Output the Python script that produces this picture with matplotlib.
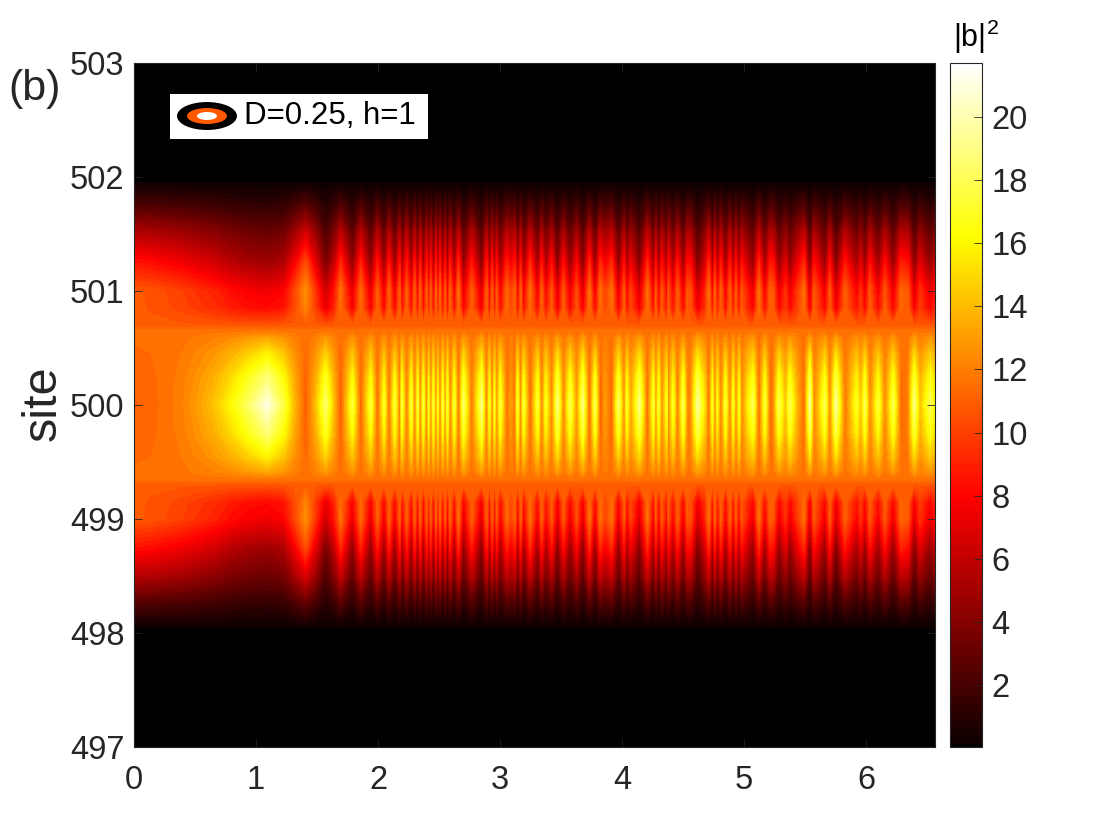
import numpy as np
import matplotlib
matplotlib.use("Agg")
import matplotlib.pyplot as plt
from matplotlib.cm import ScalarMappable
from matplotlib.colors import Normalize, ListedColormap
from matplotlib.patches import Ellipse, Rectangle

plt.rcParams['font.family'] = ['Liberation Sans', 'DejaVu Sans']
plt.rcParams['mathtext.fontset'] = 'custom'
plt.rcParams['mathtext.rm'] = 'Liberation Sans'

# time values where the stripes peak or dip
times = [
    0, .137, .383, .519, .656, .792, .929, 1.093, 1.230, 1.311, 1.407, 1.489, 1.571, 1.639, 1.694, 1.790, 1.858, 1.940, 1.995, 2.049, 2.090, 2.137, 2.178,
    2.194, 2.235, 2.273, 2.300, 2.325, 2.344, 2.371, 2.399, 2.415, 2.431, 2.453, 2.475, 2.489, 2.508, 2.530, 2.549, 2.568, 2.590, 2.625, 2.658, 2.699,
    2.767, 2.849, 2.890, 2.912, 2.937, 2.953, 2.972, 3.000, 3.054, 3.087, 3.123, 3.142, 3.169, 3.191, 3.246, 3.308, 3.341, 3.374, 3.423, 3.470, 3.519,
    3.573, 3.628, 3.677, 3.732, 3.778, 3.819, 3.860, 3.915, 3.970, 4.016, 4.038, 4.071, 4.142, 4.207, 4.257, 4.276, 4.298, 4.325, 4.366,
    4.377, 4.418, 4.454, 4.500, 4.535, 4.563, 4.617, 4.678, 4.710, 4.740, 4.760, 4.779, 4.809, 4.847, 4.883, 4.910, 4.932, 4.959, 4.978, 5.033,
    5.074, 5.120, 5.169, 5.210, 5.238, 5.284, 5.339, 5.374, 5.429, 5.492, 5.538, 5.571, 5.612, 5.661, 5.702, 5.751, 5.825, 5.921, 5.956, 5.989,
    6.030, 6.098, 6.153, 6.221, 6.284, 6.344, 6.393, 6.440, 6.522, 6.563,
]

# |b|^2 along site 500
center_vals = [
    11, 11.2, 12, 13, 14.2, 16, 18.2, 21, 17.5, 14, 10.8, 14, 18.5, 14, 10.6, 17.5, 10.8, 17.5, 11, 17, 11.3, 17.5, 11.5,
    17.5, 11.5, 17.5, 11.5, 17.5, 11.5, 17.5, 11.5, 17, 11.5, 17.5, 11.5, 16.5, 11.5, 17.5, 12, 17.5, 11.5, 17.5, 11, 18.5,
    11.5, 19, 11.5, 17, 11.5, 17, 12, 17.5, 11.3, 13, 11.5, 17.5, 11.5, 17.5, 11, 17.5, 11.5, 17, 12, 19, 12,
    18, 12.5, 19, 11, 18, 11, 13, 11, 18.5, 12, 17, 13, 19, 11, 17.5, 12, 17.5, 12, 17,
    12, 17, 11.5, 18, 12, 12.5, 19.5, 15, 11, 17, 11.5, 16.5, 11.5, 17.5, 11.5, 17, 12, 17, 12, 16,
    18, 11, 17.5, 11.5, 12, 18, 14, 18, 14, 11, 19.5, 12, 14.5, 18, 12, 19.5, 11.5, 17, 14, 18,
    12, 17.5, 12, 18, 11.2, 12, 19, 14, 18, 16,
]

# |b|^2 along sites 499 and 501
side_vals = [
    10.8, 10.6, 10, 9.5, 9, 8.3, 7.8, 7.5, 8, 10, 12.5, 9.5, 6.3, 8.5, 11.5, 7, 11.3, 7, 11, 7.2, 11, 7.2, 11,
    7.5, 11, 7.5, 11, 7.5, 11, 7.5, 11, 7.8, 11, 7.5, 11, 8, 11, 7.5, 10.7, 7.5, 11, 7.5, 11.5, 7,
    11, 6.7, 11, 7.8, 11, 7.8, 10.7, 7.5, 11.2, 10, 11, 7.5, 11, 7.5, 11.5, 7.5, 11, 7.8, 10.7, 6.7, 10.7,
    7.2, 10.4, 6.7, 11.5, 7.2, 11.5, 10, 11.5, 7, 10.7, 7.8, 10, 6.7, 11.5, 7.5, 10.7, 7.5, 10.7, 7.8,
    10.7, 7.8, 11, 7.2, 10.7, 10.4, 6.5, 9, 11.5, 7.8, 11, 8, 11, 7.5, 11, 7.8, 10.7, 7.8, 10.7, 8.5,
    7.2, 11.5, 7.5, 11, 10.7, 7.2, 9.5, 7.2, 9.5, 11.5, 6.5, 10.7, 9.3, 7.2, 10.7, 6.5, 11, 7.8, 9.5, 7.2,
    10.7, 7.5, 10.7, 7.2, 11.2, 10.7, 6.7, 9.5, 7.2, 8.5,
]

# distance from site 500 and how the profile falls off there
inner_offsets = [0, 0.25, 0.45, 0.58]
inner_weights = [1.0, 0.75, 0.45, 0.2]
ridge_offsets = [0.65, 0.69]
ridge_vals = [11.6, 10.8]
shoulder_offset = 0.85
shoulder_weight = 0.8
outer_offsets = [1.0, 1.25, 1.5, 1.75, 1.96, 3.0]
outer_weights = [1.0, 0.76, 0.5, 0.2, 0.0, 0.0]
# dark stripes fade quicker than bright ones outside site 501
outer_pivot = 10.0
outer_gain = 0.45

xticks = [0, 1, 2, 3, 4, 5, 6]
yticks = [497, 498, 499, 500, 501, 502, 503]
cticks = [2, 4, 6, 8, 10, 12, 14, 16, 18, 20]
vmin, vmax = 0.05, 21.7

center = np.array(center_vals)
side = np.array(side_vals)
outer_base = side + outer_gain * (side - outer_pivot)

# rows going up from site 500
rows = [ridge_vals[0] + w * (center - ridge_vals[0]) for w in inner_weights]
rows += [np.full(center.shape, v) for v in ridge_vals]
rows += [ridge_vals[1] + shoulder_weight * (side - ridge_vals[1])]
rows += [side]
rows += [w * outer_base for w in outer_weights[1:]]
rows = np.array(rows)

off = np.array(inner_offsets + ridge_offsets + [shoulder_offset] + outer_offsets)
sites = np.concatenate([500 - off[:0:-1], 500 + off])
z = np.vstack([rows[:0:-1], rows])

# hot colormap that really starts at black
hot_colors = plt.get_cmap('hot')(np.linspace(0, 1, 256))
hot_colors[0] = [0, 0, 0, 1]
hot_black = ListedColormap(hot_colors)
hot_black.set_under('black')

fig = plt.figure(figsize=(11.2, 8.4), dpi=100)
W, H = 1120.0, 840.0
ax = fig.add_axes([134 / W, 1 - 747 / H, 801 / W, 684 / H])
cax = fig.add_axes([950 / W, 1 - 747 / H, 32 / W, 684 / H])

norm = Normalize(vmin, vmax)
levels = np.linspace(vmin, vmax, 60)
ax.contourf(times, sites, z, levels=levels, cmap=hot_black, norm=norm, extend='both')

dark = '#262626'
ax.set_xlim(0, 6.563)
ax.set_ylim(497, 503)
ax.set_xticks(xticks)
ax.set_yticks(yticks)
ax.tick_params(direction='in', length=5.8, width=0.6, color=dark, labelcolor=dark,
               labelsize=23.5, top=True, right=True, pad=7)
ax.tick_params(axis='x', pad=13)
for s in ax.spines.values():
    s.set_color(dark)
    s.set_linewidth(0.8)
ax.set_ylabel('site', fontsize=35, color=dark)
ax.yaxis.set_label_coords(-0.085, 0.503)

cb = fig.colorbar(ScalarMappable(norm=norm, cmap=hot_black), cax=cax)
cb.set_ticks(cticks)
cb.ax.tick_params(direction='in', length=5.8, width=0.6, color=dark, labelcolor=dark,
                  labelsize=23.5, pad=7)
cb.outline.set_edgecolor(dark)
cb.outline.set_linewidth(0.8)
fig.text(953 / W, 1 - 47 / H, r'$\mathregular{|b|^2}$', fontsize=22, color='black', va='baseline')

fig.text(8 / W, 1 - 100 / H, '(b)', fontsize=31, color=dark, va='baseline')

# legend box with the ring marker
ax.add_patch(Rectangle((0.0449, 0.8889), 0.322, 0.0658, transform=ax.transAxes,
                       facecolor='white', edgecolor='none', zorder=5))
ax.add_patch(Ellipse((0.0911, 0.9225), 0.0749, 0.0409, transform=ax.transAxes,
                     facecolor='black', edgecolor='none', zorder=6))
ax.add_patch(Ellipse((0.0911, 0.9225), 0.0499, 0.0234, transform=ax.transAxes,
                     facecolor='#ff5a00', edgecolor='none', zorder=7))
ax.add_patch(Ellipse((0.0911, 0.9225), 0.025, 0.0117, transform=ax.transAxes,
                     facecolor='white', edgecolor='none', zorder=8))
ax.text(0.1373, 0.9225, 'D=0.25, h=1', transform=ax.transAxes, fontsize=22.5,
        color='black', va='center', ha='left', zorder=9)

fig.savefig('out.png', dpi=100)
